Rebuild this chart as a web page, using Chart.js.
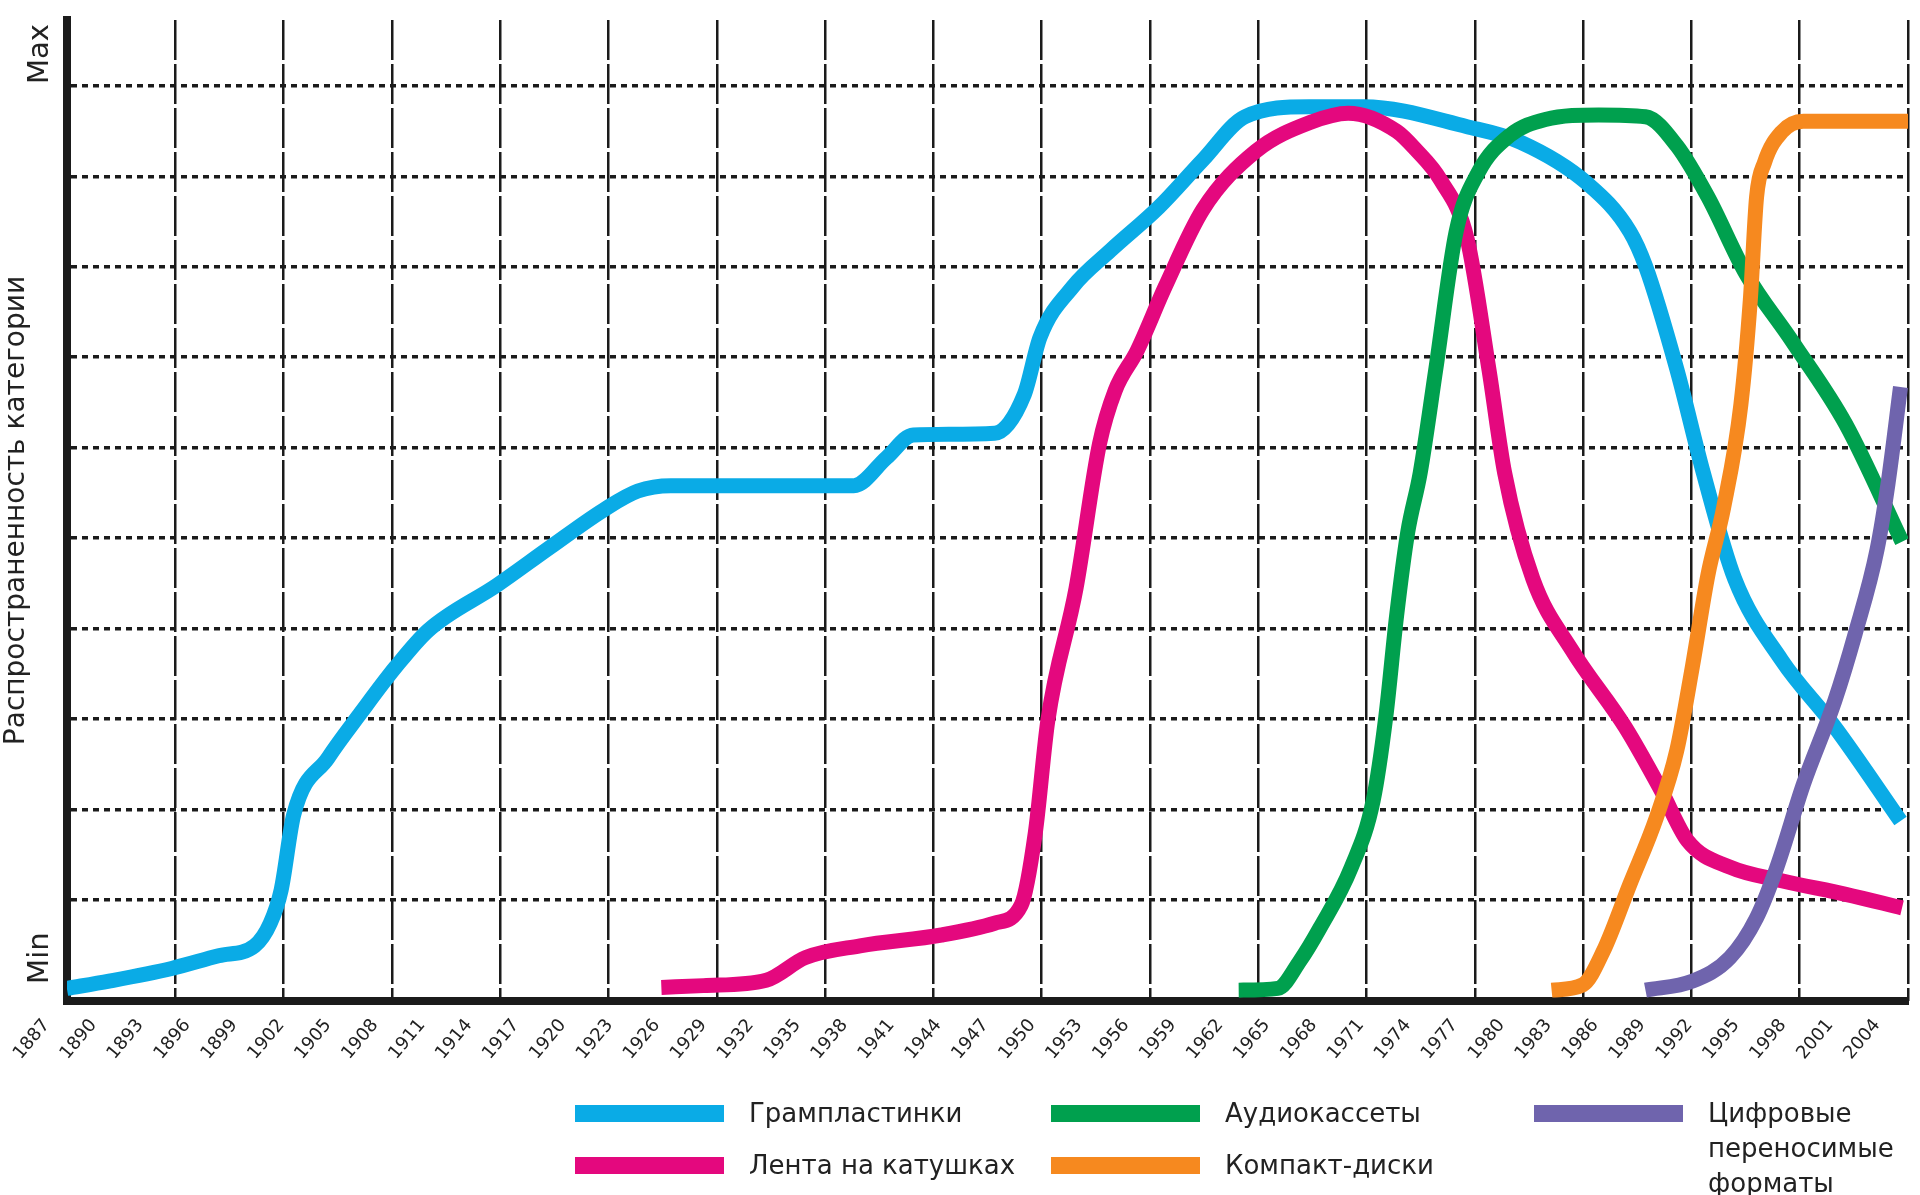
<!DOCTYPE html>
<html lang="ru">
<head>
<meta charset="utf-8">
<title>Распространенность носителей звукозаписи</title>
<script src="https://cdn.jsdelivr.net/npm/chart.js@4.4.1/dist/chart.umd.min.js"></script>
<style>
    html, body { margin: 0; padding: 0; background: #fff; overflow: hidden; }
    #wrap { position: relative; width: 1920px; height: 1195px; }
    #legend {
        position: absolute; left: 575px; top: 1096px;
        display: grid; grid-template-columns: 476px 483px 400px; grid-template-rows: 52px 52px;
        grid-auto-flow: column;
        font-family: "DejaVu Sans"; font-size: 26px; color: #222;
    }
    .item { display: flex; align-items: flex-start; }
    .swatch { width: 149px; height: 17px; margin-top: 9px; margin-right: 25px; flex: none; }
    .item span { line-height: 35px; white-space: nowrap; }
    .item:last-child span { white-space: normal; max-width: 200px; }
</style>
</head>
<body>
<div id="wrap">
    <canvas id="mediaChart" width="1920" height="1195"></canvas>
    <div id="legend"></div>
</div>
<script>
// подписи оси X (годы) и уровни сетки по Y
const yearLabels = [1887, 1890, 1893, 1896, 1899, 1902, 1905, 1908, 1911, 1914, 1917, 1920, 1923, 1926,
    1929, 1932, 1935, 1938, 1941, 1944, 1947, 1950, 1953, 1956, 1959, 1962, 1965, 1968, 1971, 1974,
    1977, 1980, 1983, 1986, 1989, 1992, 1995, 1998, 2001, 2004];
const levelTicks = [0, 1, 2, 3, 4, 5, 6, 7, 8, 9, 10];

// Грампластинки
const gramYears = [1888.3, 1891, 1895, 1898, 1900.3, 1901.3, 1902.0, 1902.8, 1905.0, 1907.1, 1909.3, 1911.4,
    1915.8, 1919.2, 1922.6, 1924.8, 1926.9, 1938.6, 1940.7, 1942.4, 1947.6, 1949.5, 1950.5, 1952.6, 1955.0,
    1958.1, 1960.9, 1963.6, 1967.7, 1971.2, 1977.8, 1981.2, 1985.5, 1988.2, 1989.2, 1991.2, 1992.9, 1994.9,
    1997.9, 2001.3, 2005.5];
const gramValues = [0.02, 0.1, 0.24, 0.38, 0.49, 0.74, 1.11, 1.94, 2.57, 3.07, 3.57, 3.98,
    4.48, 4.9, 5.31, 5.52, 5.58, 5.58, 5.89, 6.14, 6.16, 6.59, 7.22, 7.78, 8.18,
    8.66, 9.18, 9.66, 9.77, 9.77, 9.55, 9.38, 8.92, 8.39, 8.01, 6.87, 5.72, 4.55,
    3.65, 2.91, 1.87];

// Лента на катушках
const tapeYears = [1926.3, 1929, 1933, 1935.5, 1939, 1944.2, 1947.6, 1949.3, 1950.2, 1951, 1952.8, 1954.3,
    1955.3, 1956.7, 1958.5, 1960.9, 1964.3, 1967.8, 1970.2, 1973.3, 1974.5, 1976.1, 1977.8, 1979.2, 1980.2,
    1982, 1984.5, 1987.9, 1990.2, 1991.9, 1994.6, 1997.9, 2002, 2005.6];
const tapeValues = [0.03, 0.05, 0.11, 0.36, 0.49, 0.61, 0.74, 0.94, 1.74, 2.98, 4.44, 6.04,
    6.63, 7.07, 7.78, 8.63, 9.28, 9.6, 9.7, 9.5, 9.3, 8.96, 8.31, 6.86, 5.72,
    4.55, 3.76, 2.91, 2.21, 1.65, 1.36, 1.21, 1.06, 0.91];

// Аудиокассеты
const cassYears = [1963.2, 1965.7, 1967.1, 1968.4, 1970.4, 1971.8, 1972.6, 1973.3, 1974.0, 1974.8, 1975.8,
    1977.1, 1978.5, 1980.5, 1982.8, 1986.2, 1989.2, 1991.2, 1993.2, 1995.6, 1998.6, 2002.0, 2005.6];
const cassValues = [0, 0.02, 0.32, 0.69, 1.36, 2.1, 3.02, 4.15, 5.06, 5.72, 6.87,
    8.39, 9.04, 9.45, 9.63, 9.68, 9.66, 9.34, 8.77, 7.93, 7.17, 6.26, 4.96];

// Компакт-диски
const cdYears = [1983.2, 1985.2, 1986.5, 1988.2, 1989.9, 1991.2, 1992.2, 1993.2, 1994.2, 1995.3, 1995.9,
    1996.3, 1996.8, 1997.9, 1999.3, 2006.0];
const cdValues = [0, 0.06, 0.43, 1.17, 1.91, 2.65, 3.58, 4.6, 5.34, 6.48, 7.63,
    8.77, 9.15, 9.49, 9.61, 9.61];

// Цифровые переносимые форматы
const digiYears = [1989.2, 1992.2, 1994.6, 1996.3, 1997.6, 1999.3, 2001.3, 2002.6, 2004.0, 2004.7, 2005.5];
const digiValues = [0, 0.1, 0.36, 0.8, 1.36, 2.28, 3.2, 3.94, 4.87, 5.6, 6.67];

const toPoints = (xs, ys) => xs.map((x, i) => ({ x: x, y: ys[i] }));

function series(label, xs, ys, color, order) {
    return {
        label: label,
        data: toPoints(xs, ys),
        borderColor: color,
        backgroundColor: color,
        borderWidth: 15,
        borderJoinStyle: "round",
        cubicInterpolationMode: "monotone",
        pointRadius: 0,
        fill: false,
        order: order,
    };
}

const ink = "#1b1b1b";

document.addEventListener("DOMContentLoaded", function () {
    const canvas = document.getElementById("mediaChart");
    const chart = new Chart(canvas.getContext("2d"), {
        type: "line",
        data: {
            datasets: [
                series("Грампластинки", gramYears, gramValues, "#0aabe6", 5),
                series("Лента на катушках", tapeYears, tapeValues, "#e4087e", 4),
                series("Аудиокассеты", cassYears, cassValues, "#00a04e", 3),
                series("Компакт-диски", cdYears, cdValues, "#f6891f", 2),
                series("Цифровые переносимые форматы", digiYears, digiValues, "#6f64ad", 1),
            ],
        },
        options: {
            responsive: false,
            animation: false,
            layout: { padding: { top: 20, right: 12, bottom: 0, left: 0 } },
            plugins: { legend: { display: false }, tooltip: { enabled: false } },
            scales: {
                x: {
                    type: "linear",
                    position: "bottom",
                    min: 1888.31,
                    max: 2005.98,
                    afterBuildTicks: (axis) => { axis.ticks = yearLabels.map((v) => ({ value: v })); },
                    afterFit: (axis) => { axis.height = 194; },
                    grid: { display: false, drawTicks: false },
                    border: { display: true, width: 8, color: ink },
                    ticks: {
                        autoSkip: false,
                        minRotation: 50,
                        maxRotation: 50,
                        padding: 14,
                        color: "#222",
                        font: { family: "DejaVu Sans", size: 18 },
                        callback: (v) => String(v),
                    },
                },
                xGrid: {
                    axis: "x",
                    type: "linear",
                    position: "bottom",
                    min: 0,
                    max: 17,
                    afterFit: (axis) => { axis.height = 0; },
                    ticks: { display: false, stepSize: 1 },
                    grid: { color: ink, lineWidth: 2.5, drawTicks: false },
                    border: { display: false, dash: [40, 4] },
                },
                y: {
                    min: -0.12,
                    max: 10.73,
                    afterBuildTicks: (axis) => { axis.ticks = levelTicks.map((v) => ({ value: v })); },
                    afterFit: (axis) => { axis.width = 67; },
                    grid: {
                        color: (c) => (c.tick && c.tick.value === 0 ? "rgba(0,0,0,0)" : ink),
                        lineWidth: 3.5,
                        drawTicks: false,
                    },
                    border: { display: true, width: 8, color: ink, dash: [6, 5] },
                    ticks: {
                        minRotation: 90,
                        maxRotation: 90,
                        crossAlign: "center",
                        labelOffset: -32,
                        padding: -3,
                        color: "#222",
                        font: { family: "DejaVu Sans", size: 29 },
                        callback: (v) => (v === 0 ? "Min" : v === 10 ? "Max" : ""),
                    },
                    title: {
                        display: true,
                        text: "Распространенность категории",
                        color: "#222",
                        font: { family: "DejaVu Sans", size: 28 },
                        padding: { top: 0, bottom: 0 },
                    },
                },
            },
        },
    });

    // легенда в три колонки под графиком
    const legend = document.getElementById("legend");
    chart.data.datasets.forEach((ds) => {
        const item = document.createElement("div");
        item.className = "item";
        const swatch = document.createElement("div");
        swatch.className = "swatch";
        swatch.style.background = ds.borderColor;
        const text = document.createElement("span");
        text.textContent = ds.label;
        item.appendChild(swatch);
        item.appendChild(text);
        legend.appendChild(item);
    });
});
</script>
</body>
</html>
